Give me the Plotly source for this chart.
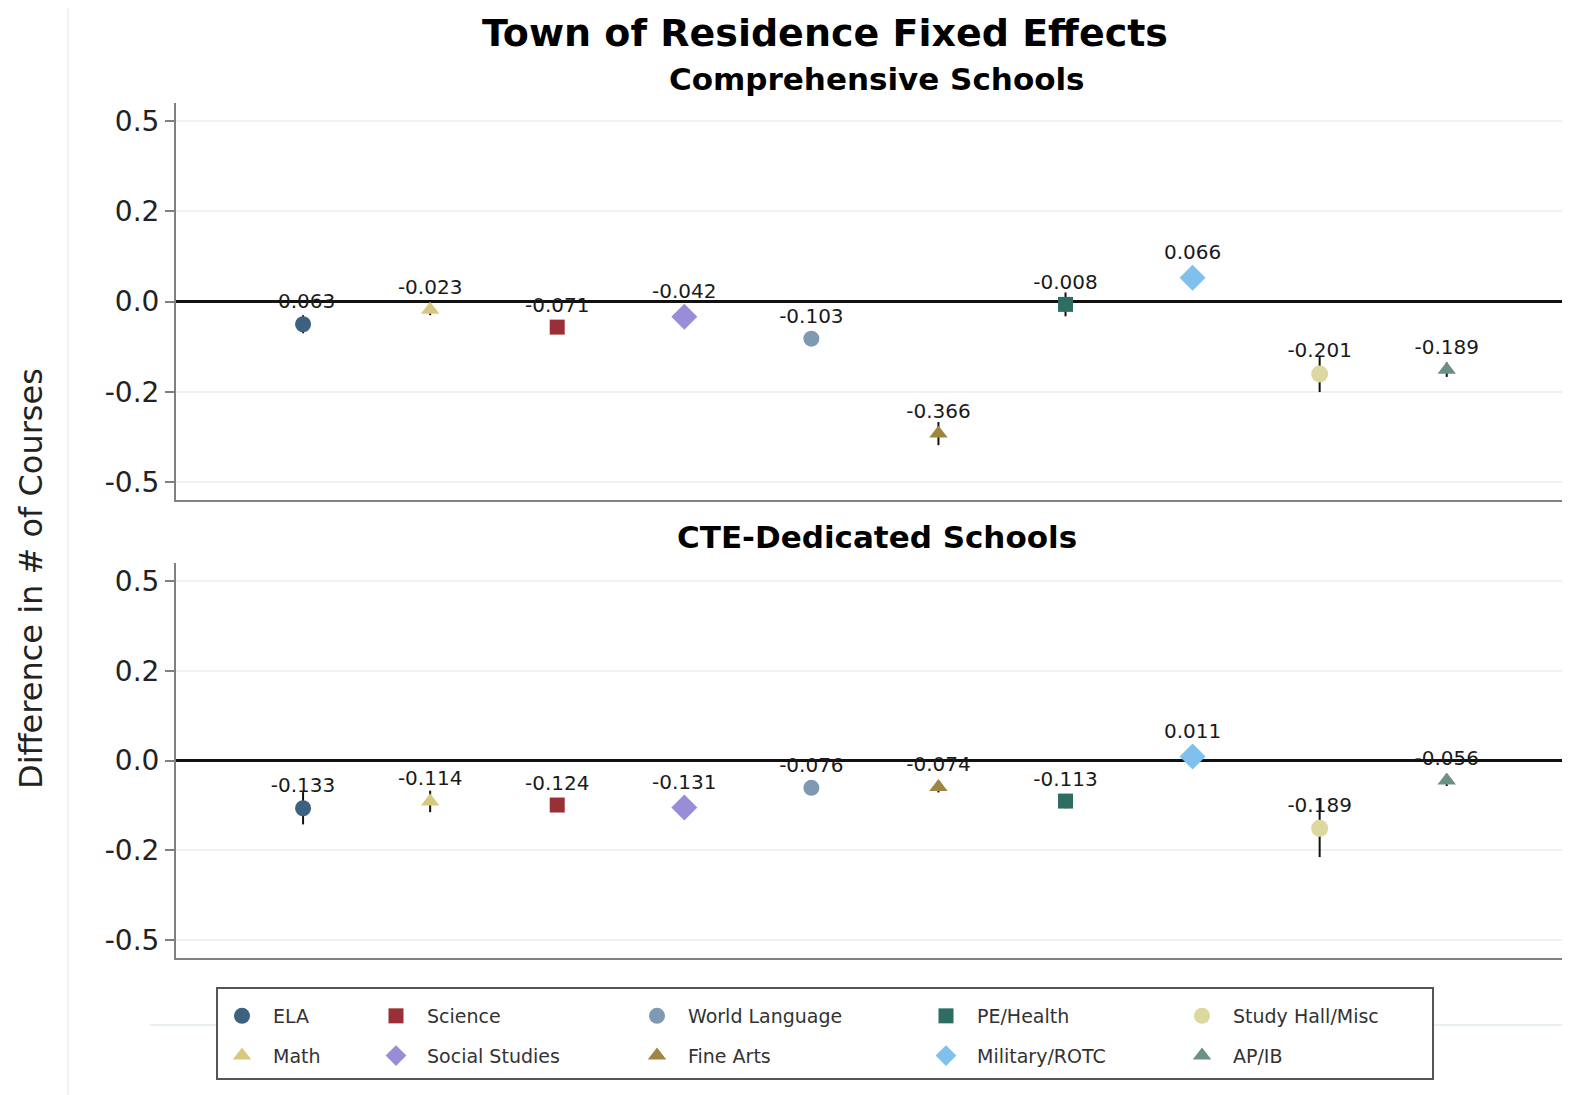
import plotly.graph_objects as go
from plotly.subplots import make_subplots

# course categories, in the order they sit along the x axis
categories = ["ELA", "Math", "Science", "Social Studies", "World Language",
              "Fine Arts", "PE/Health", "Military/ROTC", "Study Hall/Misc", "AP/IB"]

# fixed-effect estimates and half-width of the error bars
comp_est = [-0.063, -0.023, -0.071, -0.042, -0.103, -0.366, -0.008, 0.066, -0.201, -0.189]
comp_err = [0.025, 0.015, 0.015, 0.015, 0.02, 0.032, 0.033, 0.015, 0.05, 0.02]
cte_est = [-0.133, -0.114, -0.124, -0.131, -0.076, -0.074, -0.113, 0.011, -0.189, -0.056]
cte_err = [0.045, 0.03, 0.015, 0.015, 0.015, 0.015, 0.02, 0.015, 0.08, 0.015]

y_tickvals = [-0.5, -0.25, 0, 0.25, 0.5]
y_ticktext = ["-0.5", "-0.2", "0.0", "0.2", "0.5"]

colors = ["#3d6180", "#d6c97e", "#993038", "#9a8dd8", "#7f99b2",
          "#9f8640", "#2e6d61", "#7fc0ec", "#ddd7a0", "#6a9181"]
symbols = ["circle", "triangle-up", "square", "diamond", "circle",
           "triangle-up", "square", "diamond", "circle", "triangle-up"]
sizes = [16, 16, 15, 20, 16, 16, 15, 20, 17, 16]

# page has an 8px body margin, so the figure is drawn 8px smaller and
# every target pixel position below is given in window coordinates
OFF = 8
W, H = 1570 - OFF, 1095 - OFF
L, T, B = 176 - OFF, 103 - OFF, 1087 - (958 - OFF)
PW, PH = W - L, H - T - B


def px_x(p):
    return (p - OFF - L) / PW


def px_y(p):
    return (H - B - (p - OFF)) / PH


FONT = "DejaVu Sans"
legend_cols = [242, 396, 657, 946, 1202]

fig = make_subplots(rows=2, cols=1)

for i, cat in enumerate(categories):
    lg = "legend" if i // 2 == 0 else "legend%d" % (i // 2 + 1)
    for row, est, err in ((1, comp_est, comp_err), (2, cte_est, cte_err)):
        fig.add_trace(go.Scatter(
            x=[i + 1], y=[est[i]],
            mode="markers+text",
            name=cat,
            legend=lg,
            legendgroup=cat,
            showlegend=(row == 1),
            text=["%.3f" % est[i]],
            textposition="top center",
            textfont=dict(family=FONT, size=20, color="#1a1a1a"),
            marker=dict(symbol=symbols[i], size=sizes[i], color=colors[i],
                        line=dict(width=0)),
            error_y=dict(type="data", array=[err[i]], color="#111111",
                         thickness=2, width=0),
            hoverinfo="skip",
        ), row=row, col=1)

axis_y = dict(range=[-0.55, 0.55], tickvals=y_tickvals, ticktext=y_ticktext,
              tickfont=dict(family=FONT, size=28, color="#222222"),
              showline=True, linecolor="#808080", linewidth=2,
              ticks="outside", ticklen=9, tickwidth=2, tickcolor="#808080",
              showgrid=True, gridcolor="#edf3f5", gridwidth=2,
              zeroline=True, zerolinecolor="#111111", zerolinewidth=3)
axis_x = dict(range=[0, 10.97], showticklabels=False, ticks="",
              showline=True, linecolor="#808080", linewidth=2,
              showgrid=False, zeroline=False)

fig.update_yaxes(**axis_y)
fig.update_xaxes(**axis_x)

legends = {}
for k, cx in enumerate(legend_cols):
    key = "legend" if k == 0 else "legend%d" % (k + 1)
    legends[key] = dict(
        x=px_x(cx - 31), xanchor="left",
        y=px_y(997), yanchor="top",
        orientation="v", itemwidth=52, tracegroupgap=12,
        bgcolor="rgba(0,0,0,0)", borderwidth=0,
        font=dict(family=FONT, size=19, color="#333333"),
    )


def label(text, x, y, size, angle=0, color="black"):
    return dict(text=text, x=px_x(x), y=px_y(y), xref="paper", yref="paper",
                xanchor="center", yanchor="middle", showarrow=False,
                textangle=angle, font=dict(family=FONT, size=size, color=color))


fig.update_layout(
    width=W, height=H,
    margin=dict(l=L, r=0, t=T, b=B),
    paper_bgcolor="white", plot_bgcolor="white",
    yaxis=dict(domain=[px_y(500), 1]),
    yaxis2=dict(domain=[0, px_y(563)]),
    **legends,
    annotations=[
        label("<b>Town of Residence Fixed Effects</b>", 825, 33, 38),
        label("<b>Comprehensive Schools</b>", 877, 79, 31),
        label("<b>CTE-Dedicated Schools</b>", 877, 537, 31),
        label("Difference in # of Courses", 31, 579, 32, -90, "#222222"),
    ],
    shapes=[
        dict(type="line", xref="paper", yref="paper", x0=px_x(68), x1=px_x(68),
             y0=px_y(OFF), y1=px_y(1095), line=dict(color="#f2f2f2", width=2)),
        dict(type="line", xref="paper", yref="paper", x0=px_x(150), x1=px_x(217),
             y0=px_y(1025), y1=px_y(1025), line=dict(color="#e8eff2", width=2)),
        dict(type="line", xref="paper", yref="paper", x0=px_x(1433), x1=1,
             y0=px_y(1025), y1=px_y(1025), line=dict(color="#e8eff2", width=2)),
        dict(type="rect", xref="paper", yref="paper", x0=px_x(217), x1=px_x(1433),
             y0=px_y(1079), y1=px_y(988), line=dict(color="#555555", width=2)),
    ],
)

fig.write_html("out.html")
